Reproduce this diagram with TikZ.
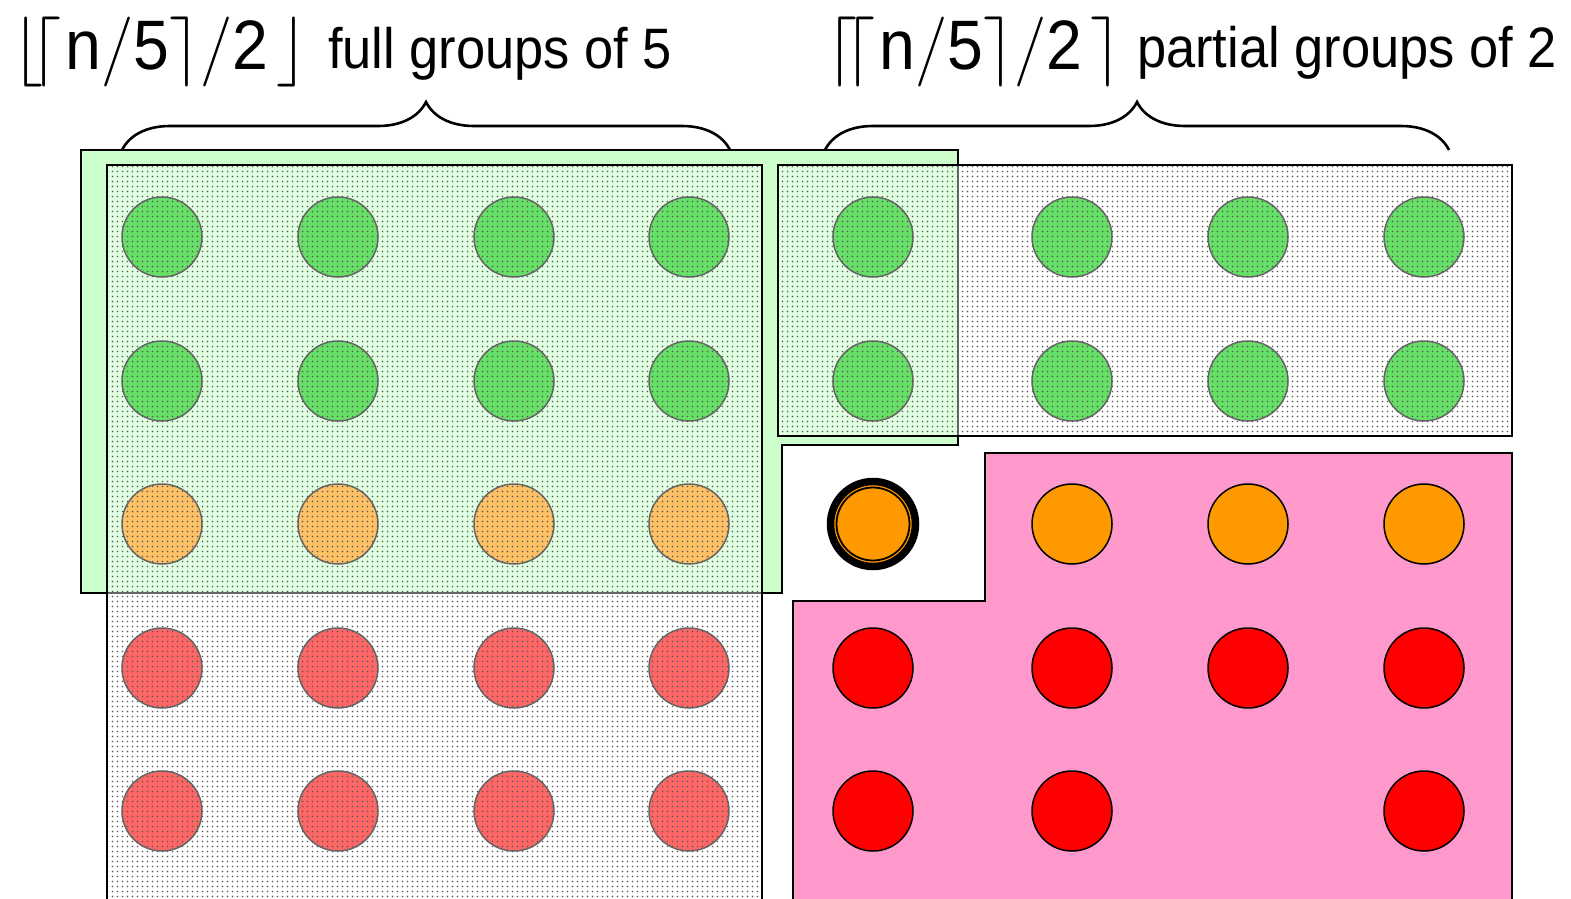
\RequirePackage{fix-cm}
\documentclass[tikz,border=0pt]{standalone}
\usepackage{fontspec}
\newfontfamily\lbl[FakeStretch=0.92]{Liberation Sans}
\usetikzlibrary{patterns,decorations.pathreplacing}

% grid of small dots used for the shaded group areas
\pgfdeclarepatternformonly{finedots}{\pgfqpoint{-1pt}{-1pt}}{\pgfqpoint{6pt}{6pt}}{\pgfqpoint{5pt}{5pt}}%
  {\pgfpathcircle{\pgfqpoint{2.5pt}{2.5pt}}{0.85pt}\pgfusepath{fill}}

\definecolor{paleGreen}{HTML}{CCFFCC}
\definecolor{pinkBg}{HTML}{FF99CC}
\definecolor{ballGreen}{HTML}{00CC00}
\definecolor{ballOrange}{HTML}{FF9900}
\definecolor{ballRed}{HTML}{FF0000}

\tikzset{
  ball/.style={circle, draw=black, line width=1.5pt, minimum size=80pt, inner sep=0pt},
  gball/.style={ball, fill=ballGreen},
  oball/.style={ball, fill=ballOrange},
  rball/.style={ball, fill=ballRed},
  region/.style={draw=black, line width=1.8pt},
  shade/.style={fill=white, fill opacity=0.4},
  dotfill/.style={pattern=finedots, pattern color=black!65},
  groupbrace/.style={decorate, decoration={brace, amplitude=48pt}, line width=2.6pt},
  formula/.style={anchor=base west, inner sep=0pt, font=\fontsize{70}{84}\selectfont},
  words/.style={anchor=base west, inner sep=0pt, font=\lbl\fontsize{57}{68}\selectfont},
}

\begin{document}
\begin{tikzpicture}[x=1pt, y=-1pt]
\useasboundingbox (0,0) rectangle (1571,899);
\clip (0,0) rectangle (1571,899);

% background regions
\draw[region, fill=paleGreen] (81,150) -- (958,150) -- (958,445) -- (782,445) -- (782,593) -- (81,593) -- cycle;
\draw[region, fill=pinkBg] (985,453) -- (1512,453) -- (1512,920) -- (793,920) -- (793,601) -- (985,601) -- cycle;

% left block of columns
\foreach \c/\x in {1/162, 2/338, 3/514, 4/689} {
  \node[gball] (L1\c) at (\x,237) {};
  \node[gball] (L2\c) at (\x,381) {};
  \node[oball] (L3\c) at (\x,524) {};
  \node[rball] (L4\c) at (\x,668) {};
  \node[rball] (L5\c) at (\x,811) {};
}

% right block of columns
\foreach \c/\x in {1/873, 2/1072, 3/1248, 4/1424} {
  \node[gball] (R1\c) at (\x,237) {};
  \node[gball] (R2\c) at (\x,381) {};
  \node[rball] (R4\c) at (\x,668) {};
}
\foreach \c/\x in {2/1072, 3/1248, 4/1424} {
  \node[oball] (R3\c) at (\x,524) {};
}
\node[rball] (R51) at (873,811) {};
\node[rball] (R52) at (1072,811) {};
\node[rball] (R54) at (1424,811) {};

% median of medians
\node[circle, draw=black, line width=7.5pt, fill=ballOrange, minimum size=85pt, inner sep=0pt] (pivot) at (873,524) {};
\node[circle, draw=black, line width=1.8pt, minimum size=73pt, inner sep=0pt] (pivotin) at (pivot.center) {};

% shaded group areas
\fill[shade] (107,165) rectangle (762,920);
\fill[dotfill] (107,165) rectangle (762,920);
\draw[region] (107,920) -- (107,165) -- (762,165) -- (762,920);
\fill[shade] (778,165) rectangle (1512,436);
\fill[dotfill] (778,165) rectangle (1512,436);
\draw[region] (778,165) rectangle (1512,436);

% braces
\coordinate (b1s) at (122,150);
\coordinate (b1e) at (730,150);
\coordinate (b2s) at (825,150);
\coordinate (b2e) at (1449,150);
\draw[groupbrace] (b1s) -- (b1e);
\draw[groupbrace] (b2s) -- (b2e);

% labels
\node[formula] (f1) at (12,70) {$\Bigl\lfloor\kern-13pt\Bigl\lceil$\kern4pt{\lbl n}$/${\lbl 5}$\Bigr\rceil/${\lbl 2}\kern8pt$\Bigr\rfloor$};
\node[words] (t1) at (328,69) {full groups of 5};
\node[formula] (f2) at (826,70) {$\Bigl\lceil\kern-13pt\Bigl\lceil$\kern4pt{\lbl n}$/${\lbl 5}$\Bigr\rceil/${\lbl 2}\kern8pt$\Bigr\rceil$};
\node[words] (t2) at (1137,67) {partial groups of 2};
\end{tikzpicture}
\end{document}
